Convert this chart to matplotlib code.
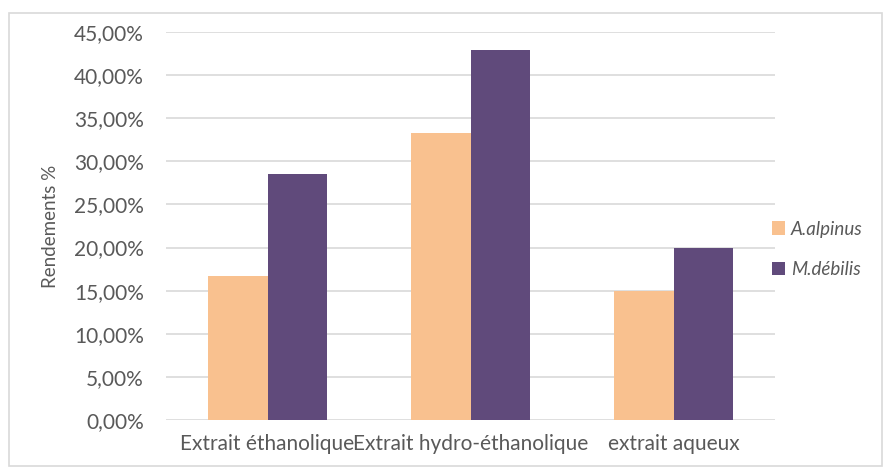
import matplotlib.pyplot as plt
import matplotlib.ticker as mtick
from matplotlib.patches import Rectangle
import numpy as np

categories = ['Extrait éthanolique', 'Extrait hydro-éthanolique', 'extrait aqueux']
series_names = ['A.alpinus', 'M.débilis']
a_alpinus = [0.1667, 0.3333, 0.15]
m_debilis = [0.2857, 0.4286, 0.20]
colors = ['#F9C18F', '#604A7B']

plt.rcParams['font.family'] = ['Lato', 'DejaVu Sans']
text_color = '#595959'

fig = plt.figure(figsize=(8.92, 4.74), dpi=100)
ax = fig.add_axes([166 / 892, 1 - 420 / 474, 609 / 892, 388 / 474])

# light grey frame around the whole chart
fig.patches.append(Rectangle((9 / 892, 8 / 474), 873 / 892, 453 / 474,
                             transform=fig.transFigure, fill=False,
                             edgecolor='#D9D9D9', linewidth=1.2))

x = np.arange(len(categories))
w = 0.293
ax.bar(x - w / 2, a_alpinus, w, color=colors[0], label=series_names[0], zorder=3)
ax.bar(x + w / 2, m_debilis, w, color=colors[1], label=series_names[1], zorder=3)

ax.set_xlim(-0.5, 2.5)
ax.set_ylim(0, 0.45)
ax.set_yticks(np.arange(0, 0.451, 0.05))
ax.yaxis.set_major_formatter(mtick.FuncFormatter(lambda v, p: f'{v * 100:.2f}%'.replace('.', ',')))
ax.grid(axis='y', color='#D9D9D9', linewidth=1.2, zorder=0)
for s in ax.spines.values():
    s.set_visible(False)
ax.tick_params(axis='both', length=0, labelsize=15, colors=text_color)
ax.tick_params(axis='y', pad=16)
ax.tick_params(axis='x', pad=10)
ax.set_xticks(x)
ax.set_xticklabels(categories)
ax.set_ylabel('Rendements %', fontsize=13.5, color=text_color, labelpad=11)

leg = ax.legend(loc='center left', bbox_to_anchor=(0.967, 0.44), frameon=False,
                prop={'style': 'italic', 'size': 13.5}, labelcolor=text_color,
                handlelength=0.7, handleheight=0.7, handletextpad=0.33, labelspacing=1.25)

fig.savefig('out.png', dpi=100)
